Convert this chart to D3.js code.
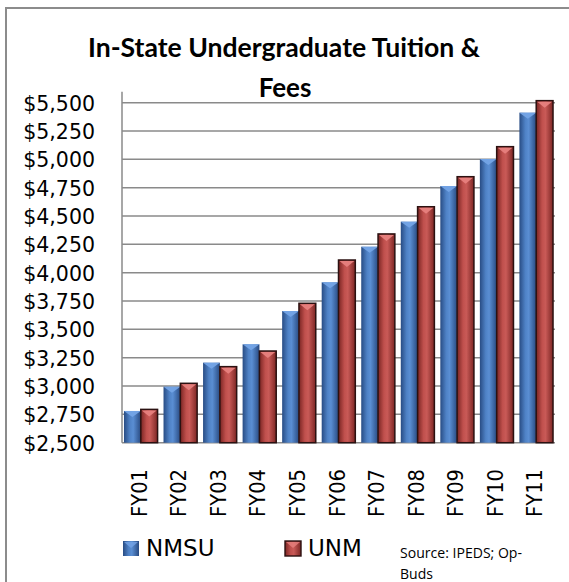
<!DOCTYPE html>
<html>
<head>
<meta charset="utf-8">
<script src="https://cdn.jsdelivr.net/npm/d3@7"></script>
<style>
  html, body { margin: 0; padding: 0; background: #ffffff; }
  svg { display: block; }
</style>
</head>
<body>
<svg id="chart" width="569" height="582"></svg>
<script>
// ---- data ----
const categories = ["FY01","FY02","FY03","FY04","FY05","FY06","FY07","FY08","FY09","FY10","FY11"];
const seriesNames = ["NMSU","UNM"];
const nmsuValues = [2780, 2994, 3206, 3368, 3662, 3915, 4229, 4450, 4765, 5003, 5412];
const unmValues  = [2794, 3024, 3171, 3309, 3730, 4112, 4342, 4582, 4847, 5112, 5518];
const yTicks = [2500, 2750, 3000, 3250, 3500, 3750, 4000, 4250, 4500, 4750, 5000, 5250, 5500];
const titleLines = ["In-State Undergraduate Tuition &", "Fees"];
const sourceLines = ["Source: IPEDS; Op-", "Buds"];

const rows = categories.map((c, i) => ({ cat: c, NMSU: nmsuValues[i], UNM: unmValues[i] }));

const svg = d3.select("#chart");
const W = 569, H = 582;
const plot = { left: 122, right: 555, top: 102.7, bottom: 442.7 };

// frame
svg.append("rect").attr("x", 6).attr("y", 8).attr("width", W + 10).attr("height", H + 10)
  .attr("fill", "#ffffff").attr("stroke", "#8c8c8c").attr("stroke-width", 2);

// gradients
const defs = svg.append("defs");
function grad(id, stops) {
  const g = defs.append("linearGradient").attr("id", id).attr("x1", "0%").attr("x2", "100%").attr("y1", "0%").attr("y2", "0%");
  stops.forEach(s => g.append("stop").attr("offset", s[0]).attr("stop-color", s[1]));
}
grad("gBlue", [["0%", "#284c84"], ["35%", "#4f82c6"], ["55%", "#5a8ed3"], ["100%", "#294b82"]]);
grad("gRed", [["0%", "#7a2523"], ["35%", "#c0504d"], ["55%", "#c95a57"], ["100%", "#7c2624"]]);

// scales
const x = d3.scaleBand().domain(categories).range([plot.left, plot.right]).paddingInner(0.15).paddingOuter(0.05);
const xs = d3.scaleBand().domain(seriesNames).range([0, x.bandwidth()]).padding(0);
const y = d3.scaleLinear().domain([2500, 5500]).range([plot.bottom, plot.top]);

// gridlines
svg.append("g").selectAll("line").data(yTicks).join("line")
  .attr("x1", plot.left).attr("x2", plot.right)
  .attr("y1", d => y(d)).attr("y2", d => y(d))
  .attr("stroke", "#8a8a8a").attr("stroke-width", 1.5);

// y axis line (with 3D depth above top)
svg.append("line").attr("x1", plot.left).attr("x2", plot.left)
  .attr("y1", y(5500) - 11).attr("y2", y(2500))
  .attr("stroke", "#8a8a8a").attr("stroke-width", 1.5);

// y axis labels via d3 axis
const yAxis = d3.axisLeft(y).tickValues(yTicks).tickSize(0).tickPadding(0)
  .tickFormat(d => "$" + d3.format(",")(d));
const yG = svg.append("g").attr("transform", `translate(95,0)`).call(yAxis);
yG.select(".domain").remove();
yG.selectAll("text").attr("font-family", "DejaVu Sans").attr("font-size", 20.5).attr("fill", "#000").attr("dy", "0.36em");

// bars
const barColors = { NMSU: "url(#gBlue)", UNM: "url(#gRed)" };
const capColors = { NMSU: "#74a4e6", UNM: "#e7817e" };
const gBars = svg.append("g");
rows.forEach(r => {
  seriesNames.forEach(s => {
    const bx = x(r.cat) + xs(s);
    const bw = xs.bandwidth();
    const by = y(r[s]);
    const bh = y(2500) - by;
    gBars.append("rect")
      .attr("x", bx).attr("y", by).attr("width", bw).attr("height", bh)
      .attr("fill", barColors[s])
      .attr("stroke", s === "UNM" ? "#2b1111" : "none")
      .attr("stroke-width", s === "UNM" ? 1.5 : 0);
    const capH = Math.min(6, bh);
    const inset = s === "UNM" ? 1 : 0;
    gBars.append("path")
      .attr("d", `M${bx + inset},${by + inset} L${bx + bw - inset},${by + inset} L${bx + bw / 2},${by + capH + inset} Z`)
      .attr("fill", capColors[s]).attr("opacity", 0.95);
  });
});

// x labels (rotated)
const xG = svg.append("g");
categories.forEach(c => {
  xG.append("text")
    .attr("transform", `translate(${x(c) + x.bandwidth() / 2 + 6},469) scale(1.12,1) rotate(-90)`)
    .attr("text-anchor", "end")
    .attr("font-family", "DejaVu Sans").attr("font-size", 19.5).attr("fill", "#000")
    .text(c);
});

// title
svg.append("text").attr("x", 284).attr("y", 57).attr("text-anchor", "middle")
  .attr("font-family", "Lato").attr("font-weight", "bold").attr("font-size", 26)
  .attr("textLength", 392).attr("lengthAdjust", "spacingAndGlyphs")
  .text(titleLines[0]);
svg.append("text").attr("x", 285).attr("y", 97).attr("text-anchor", "middle")
  .attr("font-family", "Lato").attr("font-weight", "bold").attr("font-size", 26)
  .text(titleLines[1]);

// legend
const legend = [
  { name: "NMSU", mx: 123, tx: 146, fill: "url(#gBlue)", stroke: "none", cap: capColors.NMSU },
  { name: "UNM", mx: 285, tx: 308, fill: "url(#gRed)", stroke: "#2b1111", cap: capColors.UNM }
];
legend.forEach(l => {
  svg.append("rect").attr("x", l.mx).attr("y", 541).attr("width", 16).attr("height", 15)
    .attr("fill", l.fill).attr("stroke", l.stroke).attr("stroke-width", 1.4);
  svg.append("path").attr("d", `M${l.mx + 1},${542} L${l.mx + 15},${542} L${l.mx + 8},${548} Z`)
    .attr("fill", l.cap).attr("opacity", 0.8);
  svg.append("text").attr("x", l.tx).attr("y", 556).attr("font-family", "DejaVu Sans")
    .attr("font-size", 23).attr("fill", "#000").text(l.name);
});

// source
sourceLines.forEach((t, i) => {
  svg.append("text").attr("x", 400).attr("y", 558 + i * 21)
    .attr("font-family", "Open Sans").attr("font-size", 14).attr("fill", "#000")
    .attr("textLength", i === 0 ? 122 : null).attr("lengthAdjust", "spacingAndGlyphs")
    .text(t);
});
</script>
</body>
</html>
